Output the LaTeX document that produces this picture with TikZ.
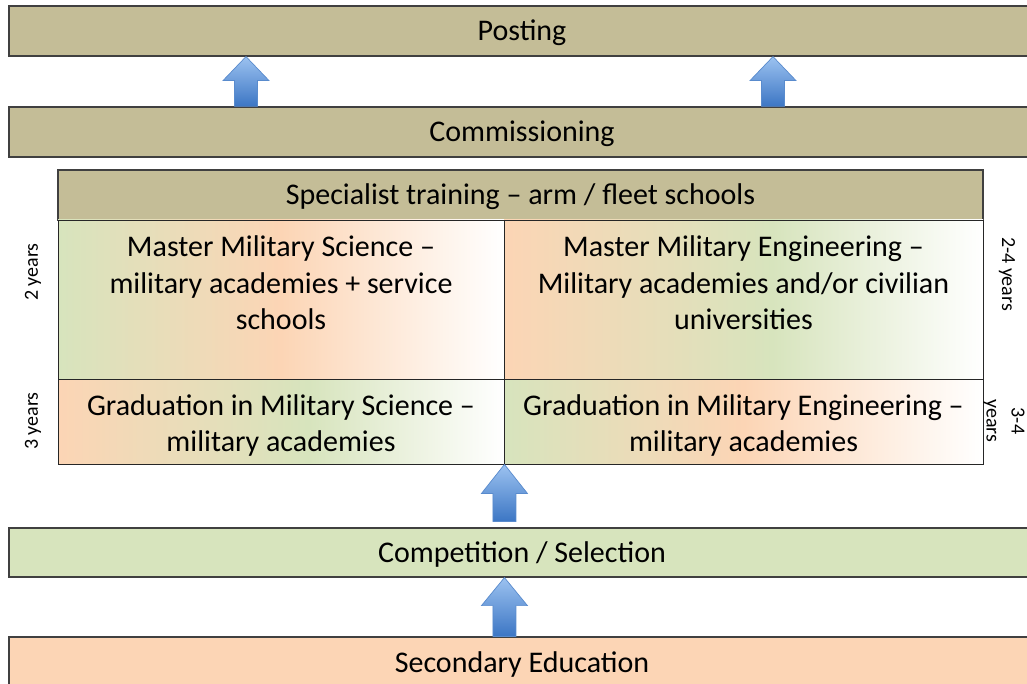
\documentclass[tikz,border=0pt]{standalone}
\usepackage{fontspec}
\setmainfont{Carlito}
\usetikzlibrary{calc}
\definecolor{tanc}{HTML}{C4BD97}
\definecolor{grn}{HTML}{D7E4BD}
\definecolor{pch}{HTML}{FCD5B5}
\definecolor{bord}{HTML}{404040}
\definecolor{arlight}{HTML}{9CC2F0}
\definecolor{ardark}{HTML}{3C76C4}
\pgfdeclarehorizontalshading{gpw}{100bp}{color(0bp)=(grn); color(25bp)=(grn); color(50bp)=(pch); color(75bp)=(white); color(100bp)=(white)}
\pgfdeclarehorizontalshading{pgw}{100bp}{color(0bp)=(pch); color(25bp)=(pch); color(53bp)=(grn); color(75bp)=(white); color(100bp)=(white)}
\newcommand\mainfnt{\fontsize{30}{36.6}\selectfont}
\newcommand\sidefnt{\fontsize{20}{25}\selectfont}
\newcommand\blockarrow[3]{%
  \path[blockar] let \p1=#1, \p2=#2 in
    (\x1-11.5pt,\y1) -- (\x1-11.5pt,\y2-#3) -- (\x1-23pt,\y2-#3) -- (\x2,\y2)
    -- (\x1+23pt,\y2-#3) -- (\x1+11.5pt,\y2-#3) -- (\x1+11.5pt,\y1) -- cycle;}
\begin{document}
\begin{tikzpicture}[x=1pt,y=-1pt,
  bar/.style={draw=bord, line width=1.2pt, minimum width=1026pt, minimum height=50pt, inner sep=0pt, font=\mainfnt, text height=24pt, text depth=4pt},
  cell/.style={draw=black!85, line width=0.9pt, inner sep=0pt},
  txt/.style={font=\mainfnt, align=center, inner sep=0pt},
  side/.style={font=\sidefnt, align=center, inner sep=0pt},
  blockar/.style={top color=arlight, bottom color=ardark, draw=ardark!85, line width=0.7pt}]
\useasboundingbox (0,0) rectangle (1027,684);
\clip (0,0) rectangle (1027,684);
% bars
\node[bar, fill=tanc] (posting) at (522,31) {Posting};
\node[bar, fill=tanc] (commission) at (522,132) {Commissioning};
\node[bar, fill=tanc, minimum width=925pt] (header) at (520.5,195) {Specialist training – arm / fleet schools};
\node[bar, fill=grn, minimum height=49pt] (compet) at (522,552.5) {Competition / Selection};
\node[bar, fill=pch] (secondary) at (522,662) {Secondary Education};
% table cells
\node[cell, shading=gpw, minimum width=446pt, minimum height=159pt] (mms) at (281,299.5) {};
\node[cell, shading=pgw, minimum width=479pt, minimum height=159pt] (mme) at (743.5,299.5) {};
\node[cell, shading=pgw, minimum width=446pt, minimum height=85pt] (gms) at (281,421.5) {};
\node[cell, shading=gpw, minimum width=479pt, minimum height=85pt] (gme) at (743.5,421.5) {};
\node[txt, anchor=north] (mmst) at ($(mms.north)+(0,16)$)
  {Master Military Science –\\military academies + service\\schools};
\node[txt, anchor=north] (mmet) at ($(mme.north)+(0,16)$)
  {Master Military Engineering –\\Military academies and/or civilian\\universities};
\node[txt] (gmst) at ($(gms.center)+(0,4)$)
  {Graduation in Military Science –\\military academies};
\node[txt] (gmet) at ($(gme.center)+(0,4)$)
  {Graduation in Military Engineering –\\military academies};
% side labels
\node[side, rotate=90] (y2) at (33,272) {2 years};
\node[side, rotate=90] (y3) at (33,421) {3 years};
\node[side, rotate=-90] (y24) at (1007,274) {2-4 years};
\node[side, rotate=-90] (y34) at (1004,421) {3-4\\years};
% arrows
\coordinate (ax1) at (246,0);
\coordinate (ax2) at (773,0);
\blockarrow{(commission.north -| ax1)}{(posting.south -| ax1)}{24pt}
\blockarrow{(commission.north -| ax2)}{(posting.south -| ax2)}{24pt}
\blockarrow{($(compet.north -| gms.south east)+(0,-6)$)}{(gms.south east)}{29pt}
\blockarrow{(secondary.north -| gms.south east)}{(compet.south -| gms.south east)}{28pt}
\end{tikzpicture}
\end{document}
